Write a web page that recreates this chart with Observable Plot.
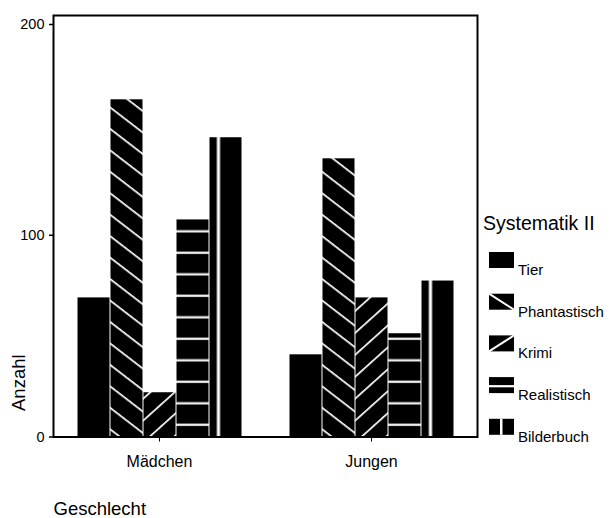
<!DOCTYPE html>
<html>
<head>
<meta charset="utf-8">
<script src="https://cdn.jsdelivr.net/npm/d3@7"></script>
<script src="https://cdn.jsdelivr.net/npm/@observablehq/plot@0.6"></script>
<style>
  html, body { margin: 0; padding: 0; background: #fff; }
  #chart { position: relative; width: 613px; height: 518px; }
</style>
</head>
<body>
<svg width="0" height="0" style="position:absolute">
  <defs>
    <pattern id="pat-tier" patternUnits="userSpaceOnUse" width="10" height="10">
      <rect width="10" height="10" fill="#000"/>
    </pattern>
    <pattern id="pat-phant" patternUnits="userSpaceOnUse" width="10" height="17" patternTransform="rotate(37.6)">
      <rect width="10" height="17" fill="#000"/>
      <rect y="0" width="10" height="1.7" fill="#fff"/>
    </pattern>
    <pattern id="pat-krimi" patternUnits="userSpaceOnUse" width="10" height="16.3" patternTransform="rotate(-42)">
      <rect width="10" height="16.3" fill="#000"/>
      <rect y="0" width="10" height="1.7" fill="#fff"/>
    </pattern>
    <pattern id="pat-real" patternUnits="userSpaceOnUse" width="40" height="21.5">
      <rect width="40" height="21.5" fill="#000"/>
      <rect y="15.2" width="40" height="2.2" fill="#fff"/>
    </pattern>
    <pattern id="pat-bild" patternUnits="objectBoundingBox" patternContentUnits="objectBoundingBox" width="1" height="1">
      <rect width="1" height="1" fill="#000"/>
      <rect x="0.23" width="0.1" height="1" fill="#fff"/>
    </pattern>
  </defs>
</svg>
<div id="chart"></div>
<script>
const groups = ["Mädchen", "Jungen"];
const series = ["Tier", "Phantastisch", "Krimi", "Realistisch", "Bilderbuch"];
const maedchen = [66, 160, 21, 103, 142];
const jungen = [39, 132, 66, 49, 74];
const yTicks = [0, 100, 200];
const patterns = ["url(#pat-tier)", "url(#pat-phant)", "url(#pat-krimi)", "url(#pat-real)", "url(#pat-bild)"];

const data = [];
series.forEach((s, i) => data.push({group: "Mädchen", series: s, value: maedchen[i]}));
series.forEach((s, i) => data.push({group: "Jungen", series: s, value: jungen[i]}));

const W = 613, H = 518;
const font = "'Liberation Sans', Arial, Helvetica, sans-serif";

const plot = Plot.plot({
  width: W,
  height: H,
  marginLeft: 53,
  marginRight: 136,
  marginTop: 15,
  marginBottom: 81.5,
  style: {fontFamily: font, color: "#000", background: "#fff", overflow: "visible"},
  fx: {domain: groups, padding: 0, paddingInner: 0, paddingOuter: 0},
  x: {domain: series, paddingInner: 0, paddingOuter: 0.693, axis: null},
  y: {domain: [0, 200], axis: null},
  color: {domain: series, range: patterns},
  marks: [
    Plot.barY(data, {fx: "group", x: "series", y: "value", fill: "series", insetLeft: 0.5, insetRight: 0.5}),
    Plot.frame({facet: "super", stroke: "#000", strokeWidth: 2}),
    Plot.axisY({ticks: yTicks.filter(d => d > 0), tickSize: 4, tickPadding: 5, fontSize: 14.5, dy: 9, label: null, strokeWidth: 1.5}),
    Plot.axisY({ticks: yTicks.filter(d => d === 0), tickSize: 4, tickPadding: 5, fontSize: 14.5, dy: 0, label: null, strokeWidth: 1.5}),
    Plot.axisFx({anchor: "bottom", tickSize: 5, tickPadding: 14, fontSize: 16, label: null}),
    Plot.text(["Anzahl"], {facet: "super", frameAnchor: "bottom-left", text: d => d, rotate: -90, textAnchor: "start", lineAnchor: "middle", dx: -34, dy: -26, fontSize: 18.5, fill: "#000"}),
    Plot.text(["Geschlecht"], {facet: "super", frameAnchor: "bottom-left", text: d => d, textAnchor: "start", lineAnchor: "bottom", dx: 0, dy: 77.5, fontSize: 18.5, fill: "#000"})
  ]
});

document.getElementById("chart").appendChild(plot);

// Legend
const svg = d3.select(plot);
const lg = svg.append("g").attr("font-family", font).attr("fill", "#000").attr("text-anchor", "start");
lg.append("text").attr("x", 483).attr("y", 230).attr("font-size", 19.5).text("Systematik II");
const sx = 489, sy0 = 252, step = 41.7, sw = 25, sh = 16;
series.forEach((s, i) => {
  const g = lg.append("g").attr("transform", `translate(${sx},${sy0 + i * step})`);
  g.append("rect").attr("width", sw).attr("height", sh).attr("fill", "#000");
  if (s === "Phantastisch") {
    g.append("line").attr("x1", 0).attr("y1", 0).attr("x2", sw).attr("y2", sh).attr("stroke", "#fff").attr("stroke-width", 2);
  } else if (s === "Krimi") {
    g.append("line").attr("x1", 0).attr("y1", sh).attr("x2", sw).attr("y2", 0).attr("stroke", "#fff").attr("stroke-width", 2);
  } else if (s === "Realistisch") {
    g.append("rect").attr("x", 0).attr("y", 8).attr("width", sw).attr("height", 2.2).attr("fill", "#fff");
  } else if (s === "Bilderbuch") {
    g.append("rect").attr("x", 11).attr("y", 0).attr("width", 2.5).attr("height", sh).attr("fill", "#fff");
  }
  g.append("text").attr("x", 29).attr("y", sh + 7).attr("font-size", 15).text(s);
});
</script>
</body>
</html>
